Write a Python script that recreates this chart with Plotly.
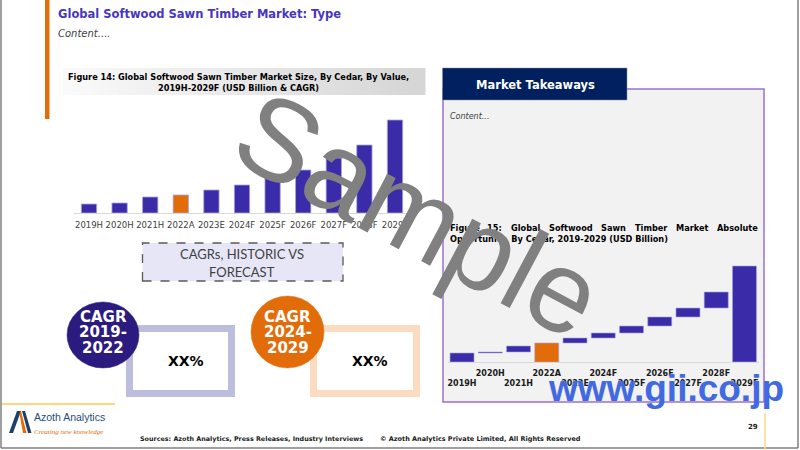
import plotly.graph_objects as go

W, H = 800, 450

# ---------------- data ----------------
years = ["2019H", "2020H", "2021H", "2022A", "2023E", "2024F",
         "2025F", "2026F", "2027F", "2028F", "2029F"]
market_size = [0.9, 1.0, 1.6, 1.8, 2.3, 2.8, 3.5, 4.3, 5.5, 6.8, 9.3]
highlight_year = "2022A"

opp_change = [0.9, 0.1, 0.6, 1.9, 0.5, 0.5, 0.7, 0.9, 0.9, 1.6, 9.6]
opp_measure = ["absolute", "relative", "relative", "absolute", "relative",
               "relative", "relative", "relative", "relative", "relative",
               "absolute"]

cagr_labels = [["CAGR", "2019-", "2022"], ["CAGR", "2024-", "2029"]]
cagr_values = ["XX%", "XX%"]

title = "Global Softwood Sawn Timber Market: Type"
fig14_title = ["Figure 14: Global Softwood Sawn Timber Market Size, By Cedar, By Value,",
               "2019H-2029F (USD Billion & CAGR)"]
fig15_line1 = ["Figure", "15:", "Global", "Softwood", "Sawn", "Timber", "Market", "Absolute"]
fig15_line2 = "Opportunity, By Cedar, 2019-2029 (USD Billion)"

# ---------------- styles ----------------
BLUE = "#3A2CA8"
ORANGE = "#E36C0A"
NAVY = "#002060"
FONT = "DejaVu Sans"


def X(x):
    return x / W


def Y(y):
    return 1 - y / H


shapes = []
annotations = []


def rect(x0, y0, x1, y1, fill=None, line=None, lw=0, dash=None, layer="below", kind="rect"):
    shapes.append(dict(type=kind, xref="paper", yref="paper",
                       x0=X(x0), x1=X(x1), y0=Y(y1), y1=Y(y0),
                       fillcolor=fill or "rgba(0,0,0,0)",
                       line=dict(color=line or "rgba(0,0,0,0)", width=lw, dash=dash or "solid"),
                       layer=layer))


def seg(x0, y0, x1, y1, color, lw, layer="above"):
    shapes.append(dict(type="line", xref="paper", yref="paper",
                       x0=X(x0), x1=X(x1), y0=Y(y0), y1=Y(y1),
                       line=dict(color=color, width=lw), layer=layer))


def poly(pts, color, layer="above"):
    d = "M " + " L ".join(f"{X(a):.5f},{Y(b):.5f}" for a, b in pts) + " Z"
    shapes.append(dict(type="path", xref="paper", yref="paper", path=d,
                       fillcolor=color, line=dict(width=0), layer=layer))


def text(t, x, y, size, color="#000000", bold=False, italic=False, family=FONT,
         xanchor="center", angle=0):
    annotations.append(dict(text=t, x=X(x), y=Y(y), xref="paper", yref="paper",
                            showarrow=False, xanchor=xanchor, yanchor="middle",
                            textangle=angle,
                            font=dict(size=size, color=color, family=family,
                                      weight="bold" if bold else "normal",
                                      style="italic" if italic else "normal")))


# ---------------- slide frame ----------------
seg(1, 0, 1, 448, "#7F7F7F", 1.5)
seg(1, 448, 798, 448, "#7F7F7F", 1.5)
seg(798, 0, 798, 448, "#7F7F7F", 1.5)
rect(45, 0, 49.5, 119, fill="#E46C0A")

text(title, 56, 14, 11.5, color="#4636C0", bold=True, xanchor="left")
text("Content....", 56, 33, 10, color="#404040", italic=True, xanchor="left")

# gradient caption box for figure 14
n = 40
gx0, gx1 = 63, 425
for i in range(n):
    c = int(250 - (250 - 214) * i / (n - 1))
    rect(gx0 + (gx1 - gx0) * i / n, 68, gx0 + (gx1 - gx0) * (i + 1) / n + 0.5, 95,
         fill=f"rgb({c},{c},{c})")
text(fig14_title[0], 238, 77, 8.2, bold=True)
text(fig14_title[1], 238, 88, 8.2, bold=True)

# ---------------- right panel ----------------
rect(443, 89, 764, 402, fill="#F2F2F2", line="#9B72CF", lw=1.5)
rect(442.5, 68, 627, 100, fill=NAVY, line="#8C8C8C", lw=0.5)
text("Market Takeaways", 535.5, 84.5, 11.5, color="#FFFFFF", bold=True)
text("Content...", 448, 116.5, 8, color="#404040", italic=True, xanchor="left")
# justified caption line (word start positions)
word_x = [448, 485.4, 508.8, 546.8, 599.2, 632.7, 673.8, 715.1]
for w, wx in zip(fig15_line1, word_x):
    text(w, wx, 228, 8.2, bold=True, xanchor="left")
text(fig15_line2, 448, 238.5, 8.2, bold=True, xanchor="left")

# ---------------- CAGR section ----------------
rect(142.5, 243, 343, 281, fill="#E6E6F7", line="#595959", lw=1.3, dash="dash")
text("CAGRs, HISTORIC VS", 242.5, 254, 13, color="#404040", family="Lato")
text("FORECAST", 242.5, 272, 13, color="#404040", family="Lato")

frames = [(126, 235, "#BDBDDD"), (310, 420, "#FDDBC0")]
circles = [(67, 302, 139, 368, "#2C1B7E"), (251, 296, 324, 368, "#E36C0A")]
for k in range(2):
    fx0, fx1, fc = frames[k]
    rect(fx0 + 3.5, 328.5, fx1 - 3.5, 393.5, fill="#FFFFFF", line=fc, lw=7, layer="above")
for k in range(2):
    cx0, cy0, cx1, cy1, cc = circles[k]
    rect(cx0, cy0, cx1, cy1, fill=cc, line=cc, lw=0.5, layer="above", kind="circle")
    cx = (cx0 + cx1) / 2
    for j, line_t in enumerate(cagr_labels[k]):
        text(line_t, cx, 316.5 + 15.5 * j, 15, color="#FFFFFF", bold=True)
    fx0, fx1, _ = frames[k]
    text(cagr_values[k], (fx0 + fx1) / 2 + 5, 361, 14, bold=True)

# ---------------- footer ----------------
seg(2, 404, 115, 404, "#FFC84F", 1.5)
poly([(9, 433), (17, 411), (21, 411), (13, 433)], "#1F3F66")
poly([(19.5, 414), (21, 411), (26.5, 433), (23, 433)], "#E46C0A")
poly([(22, 411), (25, 411), (31.5, 433), (28, 433)], "#1F3F66")
text("Azoth Analytics", 32, 417, 10.5, color="#1F4E79", family="Liberation Sans", xanchor="left")
text("Creating new knowledge", 32, 432, 7, color="#E46C0A", italic=True,
     family="Liberation Serif", xanchor="left")
text("Sources: Azoth Analytics, Press Releases, Industry Interviews", 138, 438.5, 6.4,
     color="#1a1a1a", bold=True, xanchor="left")
text("\u00a9 Azoth Analytics Private Limited, All Rights Reserved", 378, 438.5, 6.5,
     color="#1a1a1a", bold=True, xanchor="left")
text("29", 752.5, 427, 7, color="#1a1a1a", bold=True)
seg(765, 413, 765, 450, "#FFD68A", 1.5)

# ---------------- charts ----------------
colors1 = [ORANGE if y == highlight_year else BLUE for y in years]

fig = go.Figure()
fig.add_trace(go.Bar(x=years, y=market_size, width=0.5,
                     marker=dict(color=colors1, line=dict(color="#A9A2E0", width=0.8)),
                     xaxis="x", yaxis="y"))

bases, heights = [], []
cum = 0.0
for m, d in zip(opp_measure, opp_change):
    if m == "absolute":
        bases.append(0.0)
        cum = d
    else:
        bases.append(cum)
        cum += d
    heights.append(d)
colors2 = [ORANGE if y == highlight_year else BLUE for y in years]
fig.add_trace(go.Bar(x=years, y=heights, base=bases, width=0.85,
                     marker=dict(color=colors2, line=dict(color="#A9A2E0", width=0.6)),
                     xaxis="x2", yaxis="y2"))

ticktext2 = [("<br>" if i % 2 == 0 else "") + y for i, y in enumerate(years)]

# ---------------- watermarks ----------------
text("Sample", 418, 214, 116, color="#808080", family="Liberation Sans", angle=28)
text("www.gii.co.jp", 666, 388, 37, color="#4169E1", bold=True, family="Liberation Sans")

fig.update_layout(
    width=W, height=H,
    margin=dict(l=0, r=0, t=0, b=0, pad=0),
    paper_bgcolor="#FFFFFF", plot_bgcolor="rgba(0,0,0,0)",
    showlegend=False, hovermode=False,
    shapes=shapes, annotations=annotations,
    xaxis=dict(domain=[X(73.7), X(410.3)], type="category", anchor="y",
               showgrid=False, zeroline=False, showline=True, linecolor="#D9D9D9",
               linewidth=1, ticks="", tickangle=0, ticklabelstandoff=4,
               tickfont=dict(family=FONT, size=8.5, color="#404040")),
    yaxis=dict(domain=[Y(213), Y(113)], range=[0, 10], visible=False),
    xaxis2=dict(domain=[X(447.9), X(758.6)], type="category", anchor="y2",
                showgrid=False, zeroline=False, showline=True, linecolor="#D9D9D9",
                linewidth=1, ticks="", tickangle=0, ticklabelstandoff=3,
                tickmode="array", tickvals=years, ticktext=ticktext2,
                tickfont=dict(family=FONT, size=8, color="#1a1a1a", weight="bold")),
    yaxis2=dict(domain=[Y(362), Y(262)], range=[0, 10], visible=False),
)

fig.write_html("out.html", config={"displayModeBar": False},
               post_script="document.body.style.margin='0';document.body.style.padding='0';")
